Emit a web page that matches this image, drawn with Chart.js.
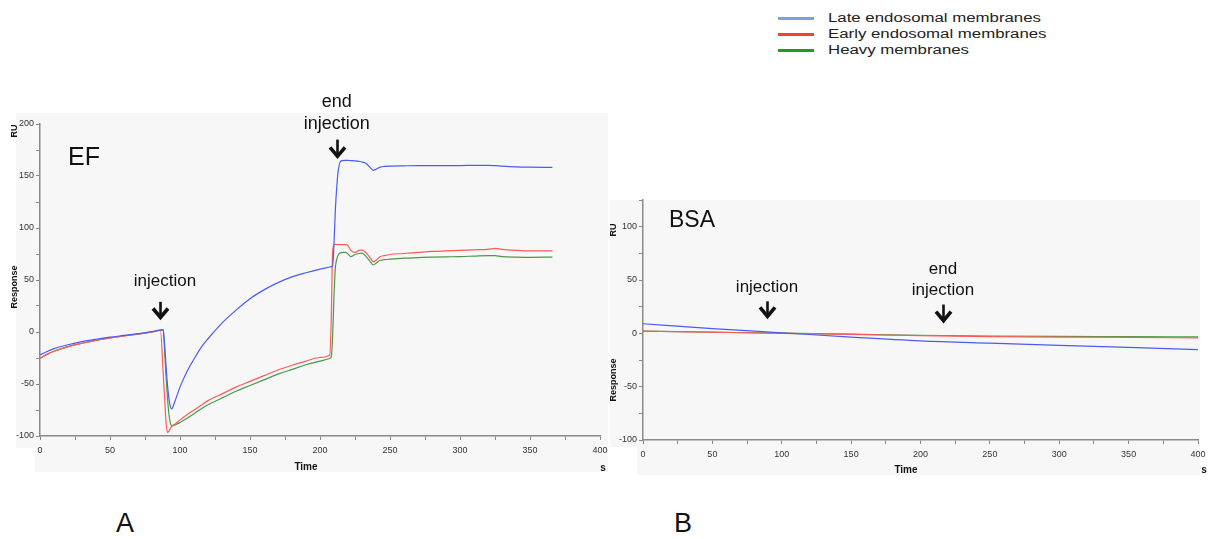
<!DOCTYPE html>
<html>
<head>
<meta charset="utf-8">
<script src="https://cdn.jsdelivr.net/npm/chart.js@4/dist/chart.umd.min.js"></script>
<style>
  body { margin: 0; width: 1218px; height: 539px; background: #fff; position: relative; overflow: hidden;
         font-family: "Liberation Sans", Arial, sans-serif; color: #111; }
  .panel { position: absolute; background: #f7f7f7; }
  canvas { position: absolute; }
  .txt { position: absolute; white-space: nowrap; }
  .vert { position: absolute; white-space: nowrap; font-size: 9px; font-weight: bold; transform: translate(-50%, -50%) rotate(-90deg); }
  .small { font-size: 10px; font-weight: bold; transform: translate(-50%, -50%); }
  .legend { position: absolute; left: 778px; top: 8px; }
  .legend .row { position: absolute; left: 0; height: 16px; width: 300px; }
  .legend .line { position: absolute; left: 0; top: 7px; width: 36px; height: 3px; }
  .legend .lab { position: absolute; left: 50px; top: 0; font-size: 12px; line-height: 16px; transform: scaleX(1.4); transform-origin: left center; color: #222; }
  .big { position: absolute; font-size: 27px; transform: translate(-50%, -50%); }
</style>
</head>
<body>
<div class="panel" style="left:16px; top:113px; width:592px; height:335px"></div>
<div class="panel" style="left:35px; top:448px; width:573px; height:24px"></div>
<div class="panel" style="left:610px; top:200px; width:590px; height:247px"></div>
<div class="panel" style="left:637px; top:447px; width:563px; height:28px"></div>

<canvas id="ef" width="620" height="410" style="left:0px; top:80px"></canvas>
<canvas id="bsa" width="618" height="310" style="left:600px; top:180px"></canvas>

<div class="legend">
  <div class="row" style="top:2px"><div class="line" style="background:#7ba3d6"></div><div class="lab">Late endosomal membranes</div></div>
  <div class="row" style="top:18px"><div class="line" style="background:#f5402a"></div><div class="lab">Early endosomal membranes</div></div>
  <div class="row" style="top:34px"><div class="line" style="background:#229922"></div><div class="lab">Heavy membranes</div></div>
</div>

<div class="vert" style="left:14px; top:131px">RU</div>
<div class="vert" style="left:14px; top:287px">Response</div>
<div class="txt small" style="left:306px; top:466px">Time</div>
<div class="txt small" style="left:603px; top:467px">s</div>

<div class="vert" style="left:613px; top:230px">RU</div>
<div class="vert" style="left:613px; top:380px">Response</div>
<div class="txt small" style="left:906px; top:469px">Time</div>
<div class="txt small" style="left:1204px; top:469px">s</div>

<div class="big" style="left:125px; top:523px">A</div>
<div class="big" style="left:683px; top:523px">B</div>

<script>
// EF experiment (panel A)
const efTime = [0, 5, 10, 20, 30, 40, 50, 60, 70, 80,
  86, 88, 89, 90, 91, 92, 93, 94, 96, 100,
  105, 110, 115, 120, 130, 140, 150, 160, 170, 180,
  190, 200, 207, 208, 209, 210, 211, 212, 213, 215,
  218, 220, 222, 225, 228, 230, 233, 236, 238, 240,
  243, 246, 250, 260, 270, 280, 290, 300, 310, 320,
  325, 330, 340, 350, 366];
const efLate = [-22, -18.8, -16, -12.3, -9.3, -7, -5, -3.3, -1.6, 0.3,
  1.8, 2.2, -12, -32, -50, -63, -71, -74, -68, -53,
  -38, -26, -15, -6.5, 8.5, 21, 32, 40.5, 47.5, 53,
  57, 60.5, 62.5, 62.8, 63.2, 85, 118, 140, 155, 164.5,
  165, 165, 164.8, 164.5, 164, 163.5, 162, 158, 155.5, 156.5,
  158.5, 159.2, 159.5, 159.8, 160, 160, 160, 160, 160.3, 160.3,
  160, 159.5, 158.8, 158.5, 158.3];
const efEarly = [-25.5, -21.5, -18.5, -14, -10.8, -8, -5.8, -3.8, -2, 0,
  1.8, -40, -63, -86, -96.5, -95.5, -93, -91, -89, -84.5,
  -79.5, -75, -70.5, -66, -59.5, -53, -47.5, -42, -36.5, -32,
  -28, -24.5, -22, 10, 76, 84, 84.2, 84, 84, 84,
  84, 83, 78.5, 76.5, 78.5, 79, 76, 71, 67.5, 69,
  72.5, 73.5, 74.5, 75.5, 76.5, 77.5, 78, 78.5, 79, 79.5,
  80.5, 79.5, 78.5, 78, 78];
const efHeavy = [-25.5, -21.5, -18.5, -14, -10.8, -8, -5.8, -3.8, -2, 0,
  1.8, 2, -18, -42, -62, -78, -87, -90, -89.5, -87,
  -83, -78.5, -74, -70, -63.5, -57, -51.5, -46, -40.5, -36,
  -31.5, -28, -25.5, -24, -5, 35, 62, 70, 74, 76.3,
  76.5, 75, 72.5, 74.5, 75.5, 75.8, 72.5, 67.5, 64.5, 66,
  69, 69.5, 70, 71, 71.5, 72, 72.3, 72.5, 73, 73.5,
  73.5, 72.5, 72, 71.8, 72];

// BSA control (panel B)
const bsaTime = [0, 50, 100, 150, 200, 250, 300, 350, 400];
const bsaLate = [9, 4.5, 0.5, -3.5, -7, -9.2, -11.2, -13.2, -15.2];
const bsaEarly = [2, 1, 0, -1, -2.2, -3, -3.5, -3.8, -4.3];
const bsaHeavy = [2, 1.1, 0.2, -0.8, -1.8, -2.5, -2.9, -3.1, -3.4];

const seriesNames = ['Late endosomal membranes', 'Early endosomal membranes', 'Heavy membranes'];
const seriesColors = ['#4a5cf5', '#ff5a5a', '#4a9a4a'];
const xTicks = [0, 50, 100, 150, 200, 250, 300, 350, 400];

const FONT = '"Liberation Sans", Arial, sans-serif';

function points(time, values) {
  return time.map((t, i) => ({ x: t, y: values[i] }));
}

function makeDatasets(time, lists) {
  return lists.map((vals, i) => ({
    label: seriesNames[i],
    data: points(time, vals),
    borderColor: seriesColors[i],
    borderWidth: 1.2,
    pointRadius: 0,
    cubicInterpolationMode: 'monotone',
    fill: false
  }));
}

// text and arrows placed in data units
const notes = {
  id: 'notes',
  afterDraw(chart, args, opts) {
    const { ctx, scales: { x, y } } = chart;
    ctx.save();
    ctx.fillStyle = '#111';
    ctx.strokeStyle = '#111';
    ctx.textBaseline = 'middle';
    (opts.labels || []).forEach(l => {
      ctx.font = l.size + 'px ' + FONT;
      ctx.textAlign = l.align || 'center';
      ctx.fillText(l.text, x.getPixelForValue(l.t), y.getPixelForValue(l.v));
    });
    (opts.arrows || []).forEach(a => {
      const px = Math.round(x.getPixelForValue(a.t)) + 0.5;
      const top = y.getPixelForValue(a.from);
      const tip = y.getPixelForValue(a.to);
      ctx.lineWidth = 2.6;
      ctx.beginPath();
      ctx.moveTo(px, top);
      ctx.lineTo(px, tip - 2);
      ctx.stroke();
      ctx.lineWidth = 3.6;
      ctx.lineJoin = 'miter';
      ctx.beginPath();
      ctx.moveTo(px - 7.5, tip - 10);
      ctx.lineTo(px, tip - 1);
      ctx.lineTo(px + 7.5, tip - 10);
      ctx.stroke();
    });
    ctx.restore();
  }
};

function makeChart(id, datasets, yMin, yMax, axisW, axisH, padTop, marks) {
  const tickFont = { family: FONT, size: 9 };
  return new Chart(document.getElementById(id), {
    type: 'line',
    data: { datasets: datasets },
    options: {
      responsive: false,
      animation: false,
      layout: { padding: { top: padTop, right: 20, left: 0, bottom: 0 } },
      plugins: { legend: { display: false }, tooltip: { enabled: false }, notes: marks },
      scales: {
        x: {
          type: 'linear', min: 0, max: 400,
          afterFit(s) { s.height = axisH; },
          afterBuildTicks(s) {
            const t = [];
            for (let v = 0; v <= 400; v += 25) t.push({ value: v });
            s.ticks = t;
          },
          ticks: {
            autoSkip: false, maxRotation: 0, padding: 5, color: '#333', font: tickFont,
            callback: v => xTicks.includes(v) ? v : ''
          },
          grid: { drawOnChartArea: false, tickLength: 4, color: '#888' },
          border: { color: '#8a8a8a', width: 1.5 }
        },
        y: {
          min: yMin, max: yMax,
          afterFit(s) { s.width = axisW; },
          ticks: {
            stepSize: 25, autoSkip: false, padding: 2, color: '#333', font: tickFont,
            callback: v => (v % 50 === 0 && v <= 200) ? v : ''
          },
          grid: { drawOnChartArea: false, tickLength: 4, color: '#888' },
          border: { color: '#8a8a8a', width: 1.5 }
        }
      }
    },
    plugins: [notes]
  });
}

makeChart('ef', makeDatasets(efTime, [efLate, efEarly, efHeavy]), -100, 200, 40, 54, 44, {
  labels: [
    { text: 'EF', t: 20, v: 167, size: 25, align: 'left' },
    { text: 'injection', t: 89.3, v: 49, size: 17 },
    { text: 'end', t: 212, v: 221, size: 18 },
    { text: 'injection', t: 212, v: 200, size: 18 }
  ],
  arrows: [
    { t: 85.7, from: 29, to: 13 },
    { t: 212, from: 185, to: 168 }
  ]
});

makeChart('bsa', makeDatasets(bsaTime, [bsaLate, bsaEarly, bsaHeavy]), -100, 125, 43, 50, 20, {
  labels: [
    { text: 'BSA', t: 18.7, v: 105.7, size: 23, align: 'left' },
    { text: 'injection', t: 89.4, v: 43.4, size: 17 },
    { text: 'end', t: 216.2, v: 60.4, size: 17 },
    { text: 'injection', t: 216.2, v: 40.6, size: 17 }
  ],
  arrows: [
    { t: 89.4, from: 30, to: 15 },
    { t: 216.2, from: 27, to: 11 }
  ]
});
</script>
</body>
</html>
